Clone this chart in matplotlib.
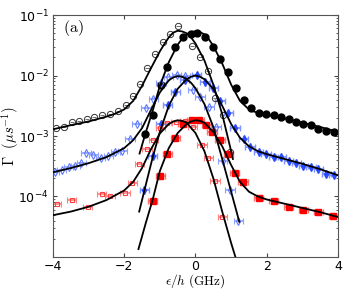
import numpy as np
import matplotlib
matplotlib.use('Agg')
import matplotlib.pyplot as plt

plt.rcParams['mathtext.fontset'] = 'cm'
plt.rcParams['font.family'] = ['DejaVu Sans']

# --- data points (open = one sweep direction, filled = the other)
x_ob = [-3.92, -3.69, -3.47, -3.26, -3.05, -2.84, -2.63, -2.40, -2.17, -1.95, -1.76, -1.56,
        -1.35, -1.13, -0.92, -0.71, -0.48, -0.10, 0.14, 0.36, 0.55, 0.77, 0.98]
y_ob = [1.38e-3, 1.41e-3, 1.70e-3, 1.78e-3, 1.91e-3, 2.04e-3, 2.24e-3, 2.34e-3, 2.57e-3, 3.24e-3,
        4.57e-3, 7.24e-3, 1.35e-2, 2.24e-2, 3.55e-2, 4.90e-2, 6.61e-2, 3.09e-2, 2.00e-2, 1.20e-2,
        4.27e-3, 2.19e-3, 5.50e-4]

x_fb = [-1.42, -1.18, -0.98, -0.79, -0.57, -0.36, -0.12, 0.05, 0.27, 0.49, 0.70, 0.91, 1.13,
        1.35, 1.57, 1.77, 1.98, 2.19, 2.40, 2.61, 2.83, 3.03, 3.24, 3.45, 3.67, 3.89]
y_fb = [1.10e-3, 2.24e-3, 6.92e-3, 1.41e-2, 2.95e-2, 4.37e-2, 4.90e-2, 5.13e-2, 4.37e-2, 2.95e-2,
        1.86e-2, 1.15e-2, 6.31e-3, 3.89e-3, 2.88e-3, 2.40e-3, 2.34e-3, 2.24e-3, 2.04e-3, 1.91e-3,
        1.70e-3, 1.58e-3, 1.51e-3, 1.32e-3, 1.20e-3, 1.17e-3]

x_obl = [-3.95, -3.75, -3.56, -3.37, -3.20, -3.07, -2.87, -2.66, -2.45, -2.25, -2.05, -1.84, -1.65,
         -1.39, -1.18, -0.97, -0.76, -0.53, -0.29, -0.08, 0.13, 0.38, 0.58, 0.76, 0.97, 1.20]
y_obl = [2.51e-4, 2.75e-4, 3.02e-4, 3.24e-4, 3.55e-4, 5.25e-4, 4.90e-4, 4.37e-4, 4.68e-4, 5.37e-4,
         5.75e-4, 8.91e-4, 1.58e-3, 2.88e-3, 4.17e-3, 7.59e-3, 9.55e-3, 1.02e-2, 9.77e-3, 5.75e-3,
         4.47e-3, 3.02e-3, 1.41e-3, 3.80e-4, 1.29e-4, 3.89e-5]

x_fbl = [-1.44, -1.20, -0.97, -0.78, -0.57, -0.30, 0.03, 0.27, 0.50, 0.69, 0.92, 1.11, 1.35, 1.53,
         1.77, 1.98, 2.19, 2.40, 2.61, 2.83, 3.03, 3.24, 3.45, 3.67, 3.89]
y_fbl = [1.29e-4, 4.68e-4, 1.58e-3, 3.31e-3, 5.37e-3, 8.51e-3, 1.02e-2, 7.94e-3, 6.31e-3, 3.80e-3,
         2.40e-3, 1.38e-3, 8.91e-4, 6.46e-4, 5.50e-4, 5.13e-4, 4.57e-4, 4.47e-4, 3.80e-4, 3.55e-4,
         3.16e-4, 3.02e-4, 2.82e-4, 2.34e-4, 2.29e-4]

x_or = [-3.90, -3.47, -3.03, -2.63, -2.40, -1.98, -1.77, -1.58, -1.36, -1.18, -0.99, -0.80, -0.55,
        -0.30, -0.08, 0.18, 0.36, 0.55, 0.75]
y_or = [7.41e-5, 8.91e-5, 6.61e-5, 1.10e-4, 1.00e-4, 1.12e-4, 1.66e-4, 3.47e-4, 6.17e-4, 8.71e-4,
        1.35e-3, 1.66e-3, 1.70e-3, 1.74e-3, 1.41e-3, 7.08e-4, 4.27e-4, 1.82e-4, 4.57e-5]

x_fr = [-1.20, -0.99, -0.79, -0.57, -0.35, -0.10, 0.10, 0.30, 0.46, 0.69, 0.92, 1.10, 1.33, 1.77,
        2.19, 2.61, 3.03, 3.45, 3.87]
y_fr = [8.51e-5, 2.14e-4, 5.01e-4, 9.33e-4, 1.58e-3, 1.82e-3, 1.82e-3, 1.51e-3, 1.17e-3, 8.51e-4,
        5.13e-4, 2.45e-4, 1.74e-4, 9.55e-5, 8.51e-5, 6.76e-5, 6.03e-5, 5.50e-5, 4.79e-5]

# --- fit curves
fx_ob = [-4, -3.5, -3, -2.5, -2.25, -2, -1.75, -1.5, -1.25, -1, -0.875, -0.75, -0.625, -0.5,
         -0.375, -0.25, -0.125, 0, 0.25, 0.5, 0.75, 1.0, 1.05]
fy_ob = [1.29e-3, 1.51e-3, 1.74e-3, 2.09e-3, 2.34e-3, 2.75e-3, 3.80e-3, 6.76e-3, 1.32e-2, 2.51e-2,
         3.31e-2, 4.27e-2, 5.13e-2, 5.50e-2, 5.37e-2, 5.01e-2, 4.27e-2, 3.39e-2, 1.78e-2, 7.08e-3,
         2.29e-3, 5.62e-4, 4.17e-4]

fx_fb = [-1.57, -1.4, -1.2, -1.0, -0.75, -0.5, -0.375, -0.25, -0.125, 0, 0.125, 0.25, 0.375, 0.5,
         0.75, 1.0, 1.25, 1.5, 1.75, 2.0, 2.5, 3.0, 3.5, 4.0]
fy_fb = [5.13e-4, 1.12e-3, 2.63e-3, 6.76e-3, 1.66e-2, 3.24e-2, 4.07e-2, 4.79e-2, 5.25e-2, 5.37e-2,
         5.25e-2, 4.79e-2, 3.98e-2, 3.09e-2, 1.58e-2, 7.08e-3, 3.80e-3, 2.75e-3, 2.40e-3, 2.24e-3,
         1.95e-3, 1.66e-3, 1.41e-3, 1.17e-3]

fx_obl = [-4, -3.5, -3, -2.5, -2, -1.75, -1.5, -1.25, -1, -0.75, -0.625, -0.5, -0.375, -0.25,
          -0.125, 0, 0.25, 0.5, 0.75, 1.0, 1.23]
fy_obl = [2.51e-4, 2.95e-4, 3.55e-4, 4.47e-4, 6.31e-4, 8.51e-4, 1.35e-3, 2.69e-3, 5.25e-3, 8.32e-3,
          9.33e-3, 9.77e-3, 9.55e-3, 8.71e-3, 7.59e-3, 6.17e-3, 3.39e-3, 1.41e-3, 4.17e-4, 1.20e-4,
          3.80e-5]

fx_fbl = [-1.58, -1.4, -1.2, -1.0, -0.75, -0.5, -0.25, -0.125, 0, 0.125, 0.25, 0.5, 0.75, 1.0,
          1.25, 1.5, 1.75, 2.0, 2.5, 3.0, 3.5, 4.0]
fy_fbl = [5.62e-5, 1.51e-4, 4.47e-4, 1.17e-3, 3.16e-3, 6.03e-3, 8.71e-3, 9.55e-3, 1.00e-2, 9.55e-3,
          8.71e-3, 6.03e-3, 3.16e-3, 1.58e-3, 9.33e-4, 6.76e-4, 5.62e-4, 5.01e-4, 4.17e-4, 3.47e-4,
          2.82e-4, 2.24e-4]

fx_or = [-4, -3.5, -3, -2.5, -2, -1.75, -1.5, -1.25, -1, -0.75, -0.625, -0.5, -0.375, -0.25, 0,
         0.25, 0.5, 0.75, 1.0, 1.12]
fy_or = [4.90e-5, 5.62e-5, 6.76e-5, 8.71e-5, 1.26e-4, 1.74e-4, 2.95e-4, 6.03e-4, 1.10e-3, 1.58e-3,
         1.74e-3, 1.82e-3, 1.78e-3, 1.66e-3, 1.12e-3, 5.62e-4, 2.00e-4, 5.62e-5, 1.70e-5, 1.00e-5]

fx_fr = [-1.60, -1.4, -1.2, -1.0, -0.75, -0.5, -0.25, -0.125, 0, 0.125, 0.25, 0.5, 0.75, 1.0,
         1.25, 1.5, 1.75, 2.0, 2.5, 3.0, 3.5, 4.0]
fy_fr = [1.35e-5, 3.55e-5, 8.91e-5, 2.63e-4, 6.31e-4, 1.12e-3, 1.58e-3, 1.74e-3, 1.82e-3, 1.78e-3,
         1.66e-3, 1.17e-3, 6.76e-4, 3.31e-4, 1.74e-4, 1.20e-4, 1.00e-4, 8.91e-5, 7.59e-5, 6.46e-5,
         5.50e-5, 4.57e-5]

fig = plt.figure(figsize=(3.46, 2.90), dpi=100)
ax = fig.add_axes([0.153, 0.114, 0.824, 0.834])

# black circles (tiny horizontal bars)
ax.errorbar(x_ob, y_ob, xerr=0.06, fmt='o', ms=4.5, mfc='none', mec='#333333', mew=0.7,
            ecolor='#555555', elinewidth=0.6, capsize=0)
ax.errorbar(x_fb, y_fb, xerr=0.06, fmt='o', ms=5, color='black', ecolor='#555555',
            elinewidth=0.6, capsize=0)

# blue diamonds
ax.errorbar(x_obl, y_obl, xerr=0.13, fmt='d', ms=4, mfc='none', mec='#5a78ff', mew=0.8,
            ecolor='#8ea0ff', elinewidth=1.2, capsize=2, capthick=1.0)
ax.errorbar(x_fbl, y_fbl, xerr=0.13, fmt='d', ms=4, color='#2a4bff', ecolor='#7d92ff',
            elinewidth=1.2, capsize=2, capthick=1.0)

# red squares
ax.errorbar(x_or, y_or, xerr=0.13, fmt='s', ms=3.5, mfc='none', mec='#ff4040', mew=0.8,
            ecolor='#ff8080', elinewidth=1.2, capsize=2, capthick=1.0)
ax.errorbar(x_fr, y_fr, xerr=0.13, fmt='s', ms=4, color='#ff0000', ecolor='#ff7070',
            elinewidth=1.2, capsize=2, capthick=1.0)

for fx, fy in [(fx_ob, fy_ob), (fx_fb, fy_fb), (fx_obl, fy_obl),
               (fx_fbl, fy_fbl), (fx_or, fy_or), (fx_fr, fy_fr)]:
    ax.plot(fx, fy, '-', color='black', lw=1.3, zorder=5)

ax.set_yscale('log')
ax.set_xlim(-4, 4)
ax.set_ylim(1e-5, 1e-1)
ax.set_xticks([-4, -2, 0, 2, 4])
ax.set_xticklabels(['\u22124', '\u22122', '0', '2', '4'])
ax.set_yticks([1e-4, 1e-3, 1e-2, 1e-1])
ax.set_yticklabels([r'$\mathregular{10^{-4}}$', r'$\mathregular{10^{-3}}$',
                    r'$\mathregular{10^{-2}}$', r'$\mathregular{10^{-1}}$'])
ax.tick_params(which='both', direction='in', top=True, right=True, labelsize=9,
               color='#444444', pad=3)
ax.tick_params(axis='x', pad=2)
ax.tick_params(which='major', length=3)
ax.tick_params(which='minor', length=1.6)
for s in ax.spines.values():
    s.set_color('#555555')
    s.set_linewidth(0.8)

ax.set_xlabel(r'$\epsilon/h\ \mathrm{(GHz)}$', fontsize=9.5, va='bottom')
ax.set_ylabel(r'$\Gamma\ \ (\mu s^{-1})$', fontsize=10.5)
ax.xaxis.set_label_coords(0.5, -0.135)
ax.yaxis.set_label_coords(-0.112, 0.5)
ax.text(0.035, 0.988, r'$\mathrm{(a)}$', transform=ax.transAxes, ha='left', va='top',
        fontsize=11.5)

fig.savefig('out.png', dpi=100)
